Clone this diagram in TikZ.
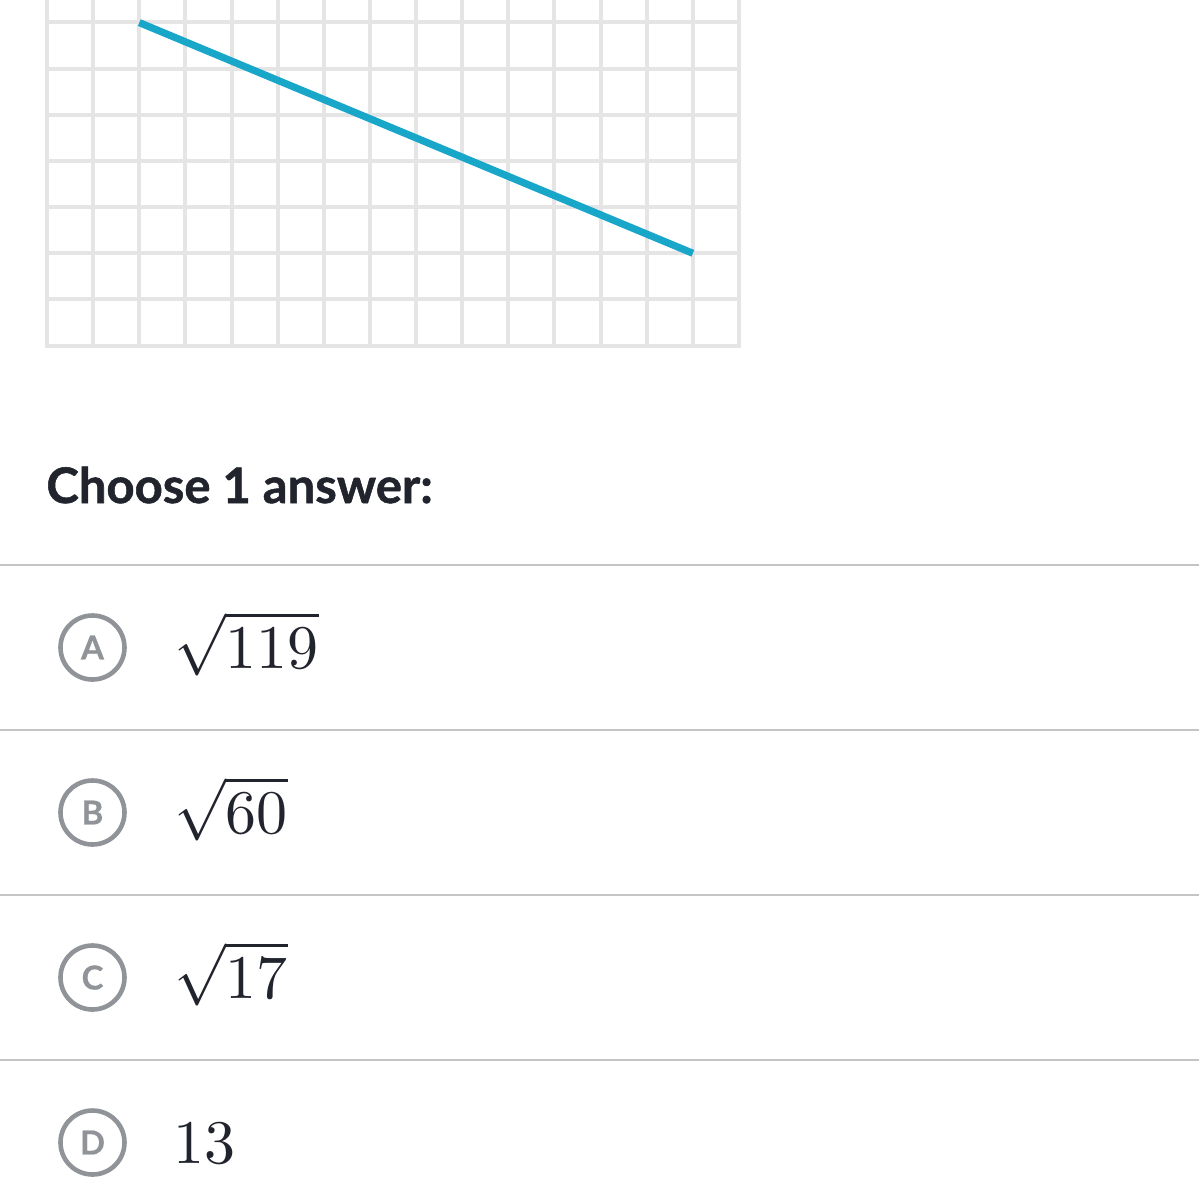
\documentclass[tikz,border=0pt]{standalone}
\usepackage{fontspec}
\newfontfamily\latofont[BoldFeatures={FakeBold=1.1}]{Lato}
\newfontfamily\latoletter[BoldFeatures={FakeBold=0.6}]{Lato}
\definecolor{gridgray}{RGB}{229,229,229}
\definecolor{kablue}{RGB}{24,166,201}
\definecolor{inkdark}{RGB}{33,36,44}
\definecolor{circgray}{RGB}{144,147,152}
\definecolor{sepgray}{RGB}{196,196,198}
\begin{document}
\begin{tikzpicture}[x=0.5pt,y=-0.5pt,
  gridline/.style={draw=gridgray,line width=2pt,line cap=rect},
  segline/.style={draw=kablue,line width=3.6pt},
  sepline/.style={draw=sepgray,line width=1.4pt},
  choice/.style={circle,draw=circgray,line width=2.3pt,minimum size=32pt,inner sep=0pt,
    text=circgray,font=\latoletter\bfseries\fontsize{16.5}{18}\selectfont},
  answer/.style={anchor=base west,inner sep=0pt,scale=3.1,text=inkdark}]
\useasboundingbox (0,0) rectangle (1199,1200);
\clip (0,0) rectangle (1199,1200);
% grid
\foreach \i in {0,...,15}
  \draw[gridline] ({47+46.133*\i},-24) -- ({47+46.133*\i},345.5);
\foreach \j in {0,...,8}
  \draw[gridline] (47,{345.5-46.15*\j}) -- (739,{345.5-46.15*\j});
% segment
\coordinate (P) at (139.3,22.6);
\coordinate (Q) at (692.9,253.3);
\draw[segline] (P) -- (Q);
% prompt
\node[anchor=base west,inner sep=0pt,text=inkdark,
  font=\latofont\bfseries\fontsize{24.5}{29}\selectfont] (prompt) at (46,503) {Choose 1 answer:};
% separators
\foreach \y in {565,730,895,1060}
  \draw[sepline] (0,\y) -- (1199,\y);
% choices
\node[choice] (cA) at (92.5,647.5) {A};
\node[choice] (cB) at (92.5,812.5) {B};
\node[choice] (cC) at (92.5,977.5) {C};
\node[choice] (cD) at (92.5,1142.5) {D};
\node[answer] (aA) at (173,668) {$\sqrt{119}$};
\node[answer] (aB) at (173,833) {$\sqrt{60}$};
\node[answer] (aC) at (173,998) {$\sqrt{17}$};
\node[answer] (aD) at (172,1163) {$13$};
\end{tikzpicture}
\end{document}
